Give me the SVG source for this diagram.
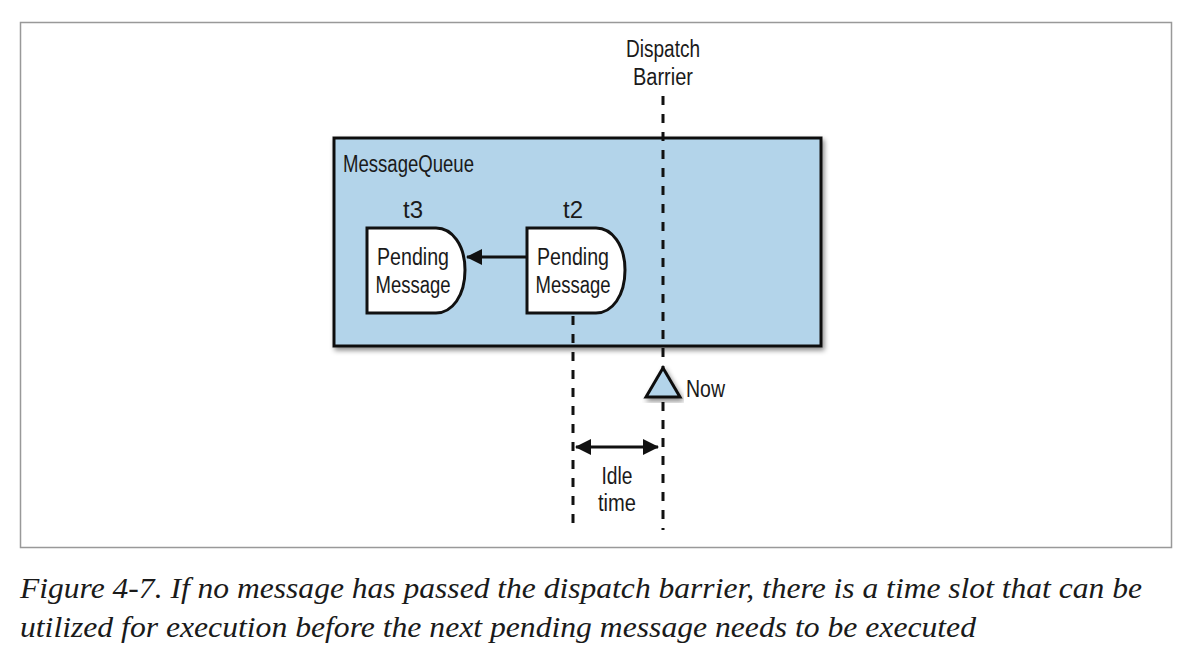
<svg xmlns="http://www.w3.org/2000/svg" width="1182" height="668" viewBox="0 0 1182 668">
<style>
.lbl{font-family:"Liberation Sans",Arial,sans-serif;font-size:23px;fill:#1a1a1a}
.mid{text-anchor:middle}
.cap{font-family:"Liberation Serif","Times New Roman",serif;font-style:italic;font-size:29px;fill:#1a1a1a}
.dash{stroke:#111;stroke-width:3;stroke-dasharray:9,9;fill:none}
.node{fill:#fff;stroke:#111;stroke-width:3}
</style>
<defs>
<filter id="sh" x="-10%" y="-10%" width="120%" height="130%">
<feDropShadow dx="2" dy="3" stdDeviation="2.5" flood-color="#000" flood-opacity="0.45"/>
</filter>
<marker id="ah2" markerWidth="16" markerHeight="16" refX="15" refY="8" orient="auto-start-reverse" markerUnits="userSpaceOnUse">
<path d="M0,0 L16,8 L0,16 Z" fill="#111"/>
</marker>
</defs>
<rect width="1182" height="668" fill="#fff"/>
<rect x="20.5" y="22.5" width="1151" height="525" fill="#fff" stroke="#999" stroke-width="1.5"/>

<g id="messagequeue">
<rect x="334" y="138" width="487" height="208" fill="#b3d4ea" stroke="#111" stroke-width="3" filter="url(#sh)"/>
<text class="lbl" x="343" y="172" textLength="131" lengthAdjust="spacingAndGlyphs">MessageQueue</text>
</g>

<g id="barrier-label">
<text class="lbl mid" x="663" y="57" textLength="74" lengthAdjust="spacingAndGlyphs">Dispatch</text>
<text class="lbl mid" x="663" y="85" textLength="60" lengthAdjust="spacingAndGlyphs">Barrier</text>
</g>

<g id="connectors">
<line class="dash" x1="663" y1="96" x2="663" y2="530"/>
<line class="dash" x1="573" y1="316" x2="573" y2="530"/>
<line x1="527" y1="257" x2="467" y2="257" stroke="#111" stroke-width="3" marker-end="url(#ah2)"/>
<line x1="576" y1="447" x2="658" y2="447" stroke="#111" stroke-width="3" marker-start="url(#ah2)" marker-end="url(#ah2)"/>
</g>

<g id="t3">
<text class="lbl mid" x="413" y="218" textLength="20" lengthAdjust="spacingAndGlyphs">t3</text>
<path class="node" d="M367,228 H436 C452,228 465,245 465,270 C465,296 452,313 436,313 H367 Z"/>
<text class="lbl mid" x="413" y="265" textLength="72" lengthAdjust="spacingAndGlyphs">Pending</text>
<text class="lbl mid" x="413" y="293" textLength="75" lengthAdjust="spacingAndGlyphs">Message</text>
</g>

<g id="t2">
<text class="lbl mid" x="573" y="218" textLength="20" lengthAdjust="spacingAndGlyphs">t2</text>
<path class="node" d="M527,228 H596 C612,228 625,245 625,270 C625,296 612,313 596,313 H527 Z"/>
<text class="lbl mid" x="573" y="265" textLength="72" lengthAdjust="spacingAndGlyphs">Pending</text>
<text class="lbl mid" x="573" y="293" textLength="75" lengthAdjust="spacingAndGlyphs">Message</text>
</g>

<g id="now">
<path d="M663,368 L680,397 L646,397 Z" fill="#b3d4ea" stroke="#111" stroke-width="3" stroke-linejoin="miter" filter="url(#sh)"/>
<text class="lbl" x="686" y="397" textLength="39" lengthAdjust="spacingAndGlyphs">Now</text>
</g>

<g id="idle">
<text class="lbl mid" x="617" y="484" textLength="31" lengthAdjust="spacingAndGlyphs">Idle</text>
<text class="lbl mid" x="617" y="511" textLength="38" lengthAdjust="spacingAndGlyphs">time</text>
</g>

<g id="caption">
<text class="cap" x="20" y="598" textLength="1122" lengthAdjust="spacingAndGlyphs">Figure 4-7. If no message has passed the dispatch barrier, there is a time slot that can be</text>
<text class="cap" x="20" y="637" textLength="956" lengthAdjust="spacingAndGlyphs">utilized for execution before the next pending message needs to be executed</text>
</g>
</svg>
